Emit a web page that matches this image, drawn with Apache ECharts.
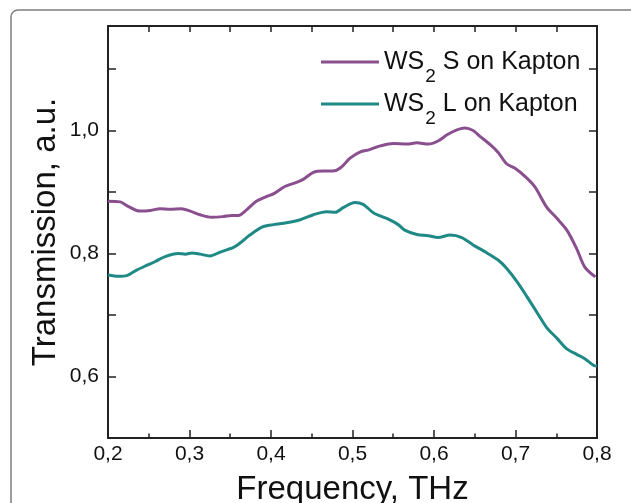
<!DOCTYPE html>
<html>
<head>
<meta charset="utf-8">
<script src="https://cdn.jsdelivr.net/npm/echarts@6/dist/echarts.min.js"></script>
<style>
  html, body { margin: 0; padding: 0; background: #fff; }
  #chart { width: 631px; height: 503px; }
</style>
</head>
<body>
<div id="chart"></div>
<script>
// WS2 S on Kapton
var sFreq = [0.200, 0.215, 0.223, 0.239, 0.252, 0.264, 0.276, 0.290, 0.301, 0.313,
	0.327, 0.341, 0.352, 0.360, 0.370, 0.382, 0.395, 0.403, 0.417, 0.432,
	0.440, 0.452, 0.464, 0.476, 0.485, 0.497, 0.509, 0.521, 0.534, 0.550,
	0.567, 0.579, 0.593, 0.605, 0.616, 0.626, 0.638, 0.648, 0.656, 0.669,
	0.679, 0.689, 0.699, 0.712, 0.724, 0.738, 0.751, 0.763, 0.775, 0.785, 0.798];
var sValues = [0.885, 0.884, 0.878, 0.869, 0.870, 0.873, 0.872, 0.873, 0.869, 0.863,
	0.859, 0.860, 0.862, 0.862, 0.871, 0.885, 0.893, 0.897, 0.909, 0.916,
	0.921, 0.932, 0.934, 0.934, 0.939, 0.955, 0.965, 0.969, 0.975, 0.979,
	0.978, 0.980, 0.978, 0.983, 0.993, 1.000, 1.004, 1.000, 0.991, 0.977,
	0.964, 0.946, 0.939, 0.925, 0.908, 0.876, 0.857, 0.838, 0.808, 0.778, 0.762];

// WS2 L on Kapton
var lFreq = [0.200, 0.213, 0.223, 0.235, 0.248, 0.258, 0.270, 0.286, 0.295, 0.303,
	0.313, 0.325, 0.337, 0.354, 0.362, 0.374, 0.389, 0.403, 0.419, 0.436,
	0.452, 0.468, 0.479, 0.489, 0.503, 0.513, 0.526, 0.542, 0.556, 0.564,
	0.579, 0.593, 0.605, 0.620, 0.634, 0.648, 0.665, 0.679, 0.689, 0.702,
	0.714, 0.726, 0.738, 0.751, 0.763, 0.775, 0.785, 0.796, 0.800];
var lValues = [0.765, 0.763, 0.764, 0.773, 0.781, 0.787, 0.795, 0.800, 0.799, 0.801,
	0.799, 0.796, 0.802, 0.810, 0.817, 0.830, 0.843, 0.847, 0.850, 0.855,
	0.863, 0.868, 0.867, 0.875, 0.883, 0.880, 0.866, 0.857, 0.847, 0.838,
	0.831, 0.829, 0.826, 0.830, 0.826, 0.814, 0.801, 0.789, 0.776, 0.754,
	0.730, 0.705, 0.680, 0.662, 0.645, 0.636, 0.629, 0.618, 0.617];

var seriesNames = ['WS2 S on Kapton', 'WS2 L on Kapton'];
var yLabelValues = [0.6, 0.8, 1.0];

var font = '"Liberation Sans", Arial, sans-serif';
var axisColor = '#222';

function pairs(xs, ys) {
	var out = [];
	for (var i = 0; i < xs.length; i++) {
		out.push([xs[i], ys[i]]);
	}
	return out;
}

function commaLabel(v) {
	return v.toFixed(1).replace('.', ',');
}

var chart = echarts.init(document.getElementById('chart'));

var xCommon = {
	type: 'value',
	min: 0.2,
	max: 0.8,
	interval: 0.1,
	splitLine: { show: false },
	axisLine: { show: true, onZero: false, lineStyle: { color: axisColor, width: 2 } }
};
var yCommon = {
	type: 'value',
	min: 0.5,
	max: 1.17,
	interval: 0.1,
	splitLine: { show: false },
	axisLine: { show: true, onZero: false, lineStyle: { color: axisColor, width: 2 } },
	axisTick: { inside: true, length: 8, lineStyle: { color: axisColor, width: 1.5 } }
};

var option = {
	animation: false,
	backgroundColor: '#fff',
	graphic: [{
		type: 'rect',
		z: -10,
		shape: { x: 11, y: 10, width: 700, height: 600, r: 7 },
		style: { fill: 'none', stroke: '#7d7d7d', lineWidth: 1.5 }
	}],
	grid: {
		left: 108,
		right: 34,
		top: 26,
		bottom: 65,
		containLabel: false,
		outerBoundsMode: 'none'
	},
	legend: {
		orient: 'vertical',
		left: 321,
		top: 38,
		padding: 0,
		itemGap: -6,
		itemWidth: 58,
		itemHeight: 3,
		icon: 'rect',
		data: seriesNames,
		formatter: function(name) {
			var parts = name.split('2');
			return '{m|' + parts[0] + '}{s|2}{m|' + parts[1] + '}';
		},
		textStyle: {
			rich: {
				m: { fontSize: 25, lineHeight: 26, fontFamily: font, color: '#111', verticalAlign: 'middle' },
				s: { fontSize: 19, lineHeight: 19, fontFamily: font, color: '#111', verticalAlign: 'middle', padding: [29, 0, 0, 1] }
			}
		}
	},
	xAxis: [
		Object.assign({}, xCommon, {
			position: 'bottom',
			name: 'Frequency, THz',
			nameLocation: 'middle',
			nameGap: 35,
			nameMoveOverlap: false,
			nameTextStyle: { fontSize: 33, fontFamily: font, color: '#111' },
			axisTick: { inside: true, length: 8, lineStyle: { color: axisColor, width: 1.5 } },
			minorTick: { show: true, splitNumber: 2, length: 4.5, lineStyle: { color: axisColor, width: 1.5 } },
			axisLabel: {
				margin: 6,
				fontSize: 21,
				fontFamily: font,
				color: '#111',
				formatter: commaLabel
			}
		}),
		Object.assign({}, xCommon, {
			position: 'top',
			axisTick: { inside: true, length: 6, lineStyle: { color: axisColor, width: 1.5 } },
			minorTick: { show: true, splitNumber: 2, length: 6, lineStyle: { color: axisColor, width: 1.5 } },
			axisLabel: { show: false }
		})
	],
	yAxis: [
		Object.assign({}, yCommon, {
			position: 'left',
			name: 'Transmission, a.u.',
			nameLocation: 'middle',
			nameGap: 46,
			nameMoveOverlap: false,
			nameTextStyle: { fontSize: 33, fontFamily: font, color: '#111' },
			axisLabel: {
				margin: 9,
				fontSize: 21,
				fontFamily: font,
				color: '#111',
				formatter: function(v) {
					for (var i = 0; i < yLabelValues.length; i++) {
						if (Math.abs(v - yLabelValues[i]) < 1e-6) return commaLabel(v);
					}
					return '';
				}
			}
		}),
		Object.assign({}, yCommon, {
			position: 'right',
			axisLabel: { show: false }
		})
	],
	series: [{
		name: seriesNames[0],
		type: 'line',
		data: pairs(sFreq, sValues),
		smooth: 0.3,
		showSymbol: false,
		symbol: 'none',
		lineStyle: { color: '#8a4f8e', width: 3 },
		itemStyle: { color: '#8a4f8e' }
	}, {
		name: seriesNames[1],
		type: 'line',
		data: pairs(lFreq, lValues),
		smooth: 0.3,
		showSymbol: false,
		symbol: 'none',
		lineStyle: { color: '#1f8985', width: 3 },
		itemStyle: { color: '#1f8985' }
	}]
};

chart.setOption(option);
</script>
</body>
</html>
